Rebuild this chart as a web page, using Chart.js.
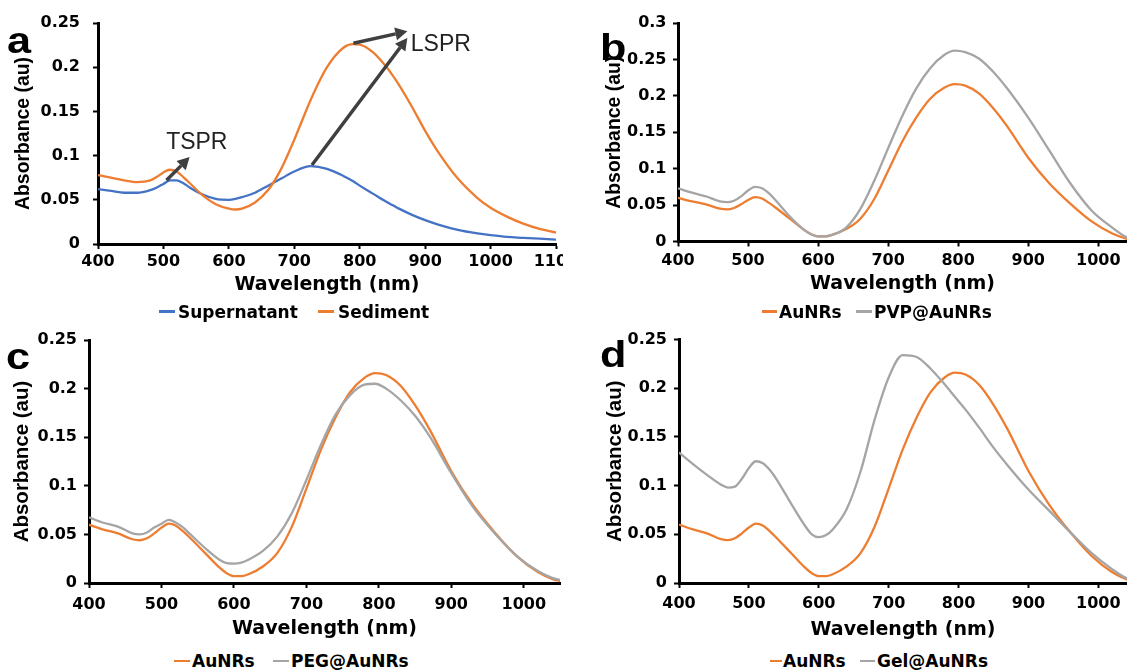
<!DOCTYPE html>
<html>
<head>
<meta charset="utf-8">
<script src="https://cdn.jsdelivr.net/npm/chart.js@4.4.0/dist/chart.umd.min.js"></script>
<style>
html,body{margin:0;padding:0;background:#fff;width:1127px;height:670px;overflow:hidden;position:relative;}
canvas{position:absolute;}
.letter{position:absolute;font-family:'Liberation Sans',Arial,sans-serif;font-weight:bold;color:#000;white-space:nowrap;transform-origin:left top;}
.lg-line{position:absolute;height:2.5px;}
.lg-text{position:absolute;font:bold 17px 'DejaVu Sans',sans-serif;line-height:20px;color:#000;white-space:nowrap;}
</style>
</head>
<body>
<canvas id="ca" width="563" height="304" style="left:0px;top:0px"></canvas>
<canvas id="cb" width="564" height="302" style="left:563px;top:0px"></canvas>
<canvas id="cc" width="563" height="313" style="left:0px;top:330px"></canvas>
<canvas id="cd" width="564" height="313" style="left:563px;top:330px"></canvas>
<div id="overlay"></div>
<script>
// ---------------- DATA ----------------
const xTitle = 'Wavelength (nm)';
const yTitle = 'Absorbance (au)';

// Panel a
const waveA = [400,420,440,460,480,490,500,510,520,530,540,560,580,600,610,620,640,660,680,700,725,750,775,790,800,820,840,850,860,880,900,920,950,980,1000,1025,1050,1075,1100];
const supernatant = [0.062,0.060,0.058,0.058,0.061,0.064,0.068,0.072,0.072,0.069,0.064,0.056,0.051,0.050,0.051,0.053,0.058,0.066,0.074,0.082,0.088,0.085,0.077,0.071,0.066,0.057,0.048,0.044,0.040,0.033,0.027,0.022,0.016,0.012,0.010,0.008,0.007,0.006,0.005];
const sediment = [0.078,0.075,0.072,0.070,0.072,0.076,0.081,0.084,0.082,0.076,0.069,0.055,0.045,0.040,0.039,0.040,0.047,0.061,0.085,0.118,0.163,0.200,0.222,0.226,0.2255,0.217,0.201,0.191,0.180,0.155,0.128,0.104,0.074,0.052,0.041,0.031,0.023,0.017,0.013];

// Panels b, c, d
const waveBCD = [400,420,440,460,470,480,490,500,510,520,530,540,560,580,590,600,610,620,640,660,680,700,720,740,760,780,795,810,830,850,870,900,930,960,990,1020,1040,1050];
const auNRs = [0.060,0.055,0.051,0.045,0.044,0.046,0.051,0.057,0.061,0.059,0.053,0.046,0.031,0.016,0.010,0.007,0.007,0.009,0.017,0.031,0.058,0.097,0.137,0.170,0.196,0.211,0.216,0.214,0.203,0.183,0.158,0.115,0.080,0.052,0.028,0.011,0.004,0.002];
const pvpAuNRs = [0.073,0.067,0.062,0.055,0.054,0.056,0.062,0.070,0.075,0.073,0.066,0.056,0.034,0.016,0.010,0.007,0.007,0.009,0.019,0.044,0.083,0.128,0.172,0.210,0.238,0.256,0.262,0.260,0.251,0.233,0.210,0.170,0.125,0.080,0.043,0.019,0.006,0.004];
const pegAuNRs = [0.0675,0.062,0.058,0.051,0.050,0.052,0.057,0.061,0.065,0.062,0.057,0.050,0.036,0.024,0.0205,0.020,0.021,0.024,0.033,0.048,0.072,0.106,0.142,0.173,0.193,0.204,0.205,0.200,0.188,0.172,0.151,0.113,0.078,0.051,0.028,0.012,0.005,0.003];
const gelAuNRs = [0.134,0.122,0.111,0.101,0.098,0.099,0.107,0.118,0.125,0.123,0.116,0.106,0.082,0.059,0.050,0.047,0.049,0.055,0.076,0.115,0.168,0.211,0.234,0.232,0.220,0.204,0.191,0.178,0.159,0.139,0.121,0.096,0.074,0.052,0.031,0.014,0.005,0.003];

// Tick values / labels
const xTicksA = [400,500,600,700,800,900,1000,1100];
const xLabelsA = ['400','500','600','700','800','900','1000','1100'];
const xTicksBCD = [400,500,600,700,800,900,1000];
const xLabelsBCD = ['400','500','600','700','800','900','1000'];
const yTicks25 = [0,0.05,0.1,0.15,0.2,0.25];
const yLabels25 = ['0','0.05','0.1','0.15','0.2','0.25'];
const yTicks30 = [0,0.05,0.1,0.15,0.2,0.25,0.3];
const yLabels30 = ['0','0.05','0.1','0.15','0.2','0.25','0.3'];

// Annotations (panel a), in data coordinates
const arrowStartX = [504.7, 790.3, 727.0];
const arrowStartY = [0.072, 0.2271, 0.0893];
const arrowEndX   = [540.0, 872.8, 872.8];
const arrowEndY   = [0.0983, 0.2406, 0.2331];
const noteText = ['TSPR', 'LSPR'];
const noteX = [551, 924];
const noteY = [0.1154, 0.2264];

// ---------------- STYLE ----------------
const BLUE = '#4472C4', ORANGE = '#ED7D31', GRAY = '#A5A5A5';
Chart.defaults.font.family = "'DejaVu Sans', sans-serif";
Chart.defaults.color = '#000';

function pts(xs, ys){ return xs.map((x,i)=>({x:x, y:ys[i]})); }

const annotPlugin = {
  id: 'annot',
  afterDatasetsDraw(chart, args, opts) {
    const ctx = chart.ctx, xs = chart.scales.x, ys = chart.scales.y;
    ctx.save();
    ctx.strokeStyle = '#3f3f3f';
    ctx.fillStyle = '#3f3f3f';
    ctx.lineWidth = 3.5;
    for (let i = 0; i < arrowStartX.length; i++) {
      const x1 = xs.getPixelForValue(arrowStartX[i]), y1 = ys.getPixelForValue(arrowStartY[i]);
      const x2 = xs.getPixelForValue(arrowEndX[i]), y2 = ys.getPixelForValue(arrowEndY[i]);
      const ang = Math.atan2(y2 - y1, x2 - x1);
      const hl = 12, hw = 6.5;
      const bx = x2 - hl * Math.cos(ang), by = y2 - hl * Math.sin(ang);
      ctx.beginPath(); ctx.moveTo(x1, y1); ctx.lineTo(bx, by); ctx.stroke();
      ctx.beginPath();
      ctx.moveTo(x2, y2);
      ctx.lineTo(bx + hw * Math.sin(ang), by - hw * Math.cos(ang));
      ctx.lineTo(bx - hw * Math.sin(ang), by + hw * Math.cos(ang));
      ctx.closePath(); ctx.fill();
    }
    ctx.fillStyle = '#222';
    ctx.font = "23px 'Liberation Sans', Arial, sans-serif";
    ctx.textAlign = 'center';
    ctx.textBaseline = 'middle';
    for (let i = 0; i < noteText.length; i++) {
      ctx.fillText(noteText[i], xs.getPixelForValue(noteX[i]), ys.getPixelForValue(noteY[i]) + 1);
    }
    ctx.restore();
  }
};

function buildChart(p) {
  const cv = document.getElementById(p.id);
  return new Chart(cv, {
    type: 'line',
    data: {
      datasets: p.series.map((s, i) => ({
        label: s.name,
        data: pts(s.x, s.y),
        borderColor: s.color,
        backgroundColor: s.color,
        borderWidth: 2.3,
        pointRadius: 0,
        cubicInterpolationMode: 'monotone',
        fill: false,
        order: p.series.length - i
      }))
    },
    options: {
      responsive: false,
      animation: false,
      devicePixelRatio: 1,
      layout: { padding: { top: p.padTop, right: p.padRight, left: 0, bottom: 0 } },
      plugins: { legend: { display: false }, tooltip: { enabled: false } },
      scales: {
        x: {
          type: 'linear', min: p.xMin, max: p.xMax,
          afterBuildTicks: s => { s.ticks = p.xTicks.map(v => ({ value: v })); },
          afterFit: s => { s.height = p.xH; s.paddingLeft = 0; s.paddingRight = 0; },
          ticks: { font: { size: 16, weight: 'bold' }, color: '#000', padding: p.xTickPad, maxRotation: 0, autoSkip: false,
                   callback: (v, i) => p.xLabels[i] },
          grid: { drawOnChartArea: false, drawTicks: true, tickLength: 5, tickWidth: 2, tickColor: '#000', color: '#000' },
          border: { display: true, color: '#000', width: 3 },
          title: { display: true, text: xTitle, color: '#000', font: { size: 19, weight: 'bold' }, padding: { top: 0, bottom: p.xTitlePad } }
        },
        y: {
          type: 'linear', min: 0, max: p.yMax,
          afterBuildTicks: s => { s.ticks = p.yTicks.map(v => ({ value: v })); },
          afterFit: s => { s.width = p.yW; s.paddingTop = 0; s.paddingBottom = 0; },
          ticks: { font: { size: 16, weight: 'bold' }, color: '#000', padding: p.yTickPad, autoSkip: false,
                   callback: (v, i) => p.yLabels[i] },
          grid: { drawOnChartArea: false, drawTicks: true, tickLength: 5, tickWidth: 2, tickColor: '#000', color: '#000' },
          border: { display: true, color: '#000', width: 3 },
          title: { display: true, text: yTitle, color: '#000',
                   font: { family: "'Liberation Sans', Arial, sans-serif", size: p.yTitleSize, weight: 'bold' },
                   padding: { top: p.yTitlePad, bottom: 0 } }
        }
      }
    },
    plugins: p.annot ? [annotPlugin] : []
  });
}

const panels = [
  { id: 'ca', letter: 'a', letterX: 7, letterTop: 22.5,
    series: [ { name: 'Supernatant', x: waveA, y: supernatant, color: BLUE },
              { name: 'Sediment', x: waveA, y: sediment, color: ORANGE } ],
    xMin: 400, xMax: 1100, xTicks: xTicksA, xLabels: xLabelsA,
    yMax: 0.25, yTicks: yTicks25, yLabels: yLabels25,
    padTop: 23, padRight: 7, yW: 98, xH: 60, xTickPad: 3.4, xTitlePad: 7.6, yTickPad: 13, yTitlePad: 12, yTitleSize: 19.4,
    annot: true,
    legend: { y: 311.7, items: [ { line: 159, w: 16, text: 178 }, { line: 318, w: 16, text: 338 } ] } },
  { id: 'cb', letter: 'b', letterX: 600, letterTop: 29.5,
    series: [ { name: 'AuNRs', x: waveBCD, y: auNRs, color: ORANGE },
              { name: 'PVP@AuNRs', x: waveBCD, y: pvpAuNRs, color: GRAY } ],
    xMin: 400, xMax: 1041, xTicks: xTicksBCD, xLabels: xLabelsBCD,
    yMax: 0.3, yTicks: yTicks30, yLabels: yLabels30,
    padTop: 23, padRight: 0, yW: 115, xH: 60.5, xTickPad: 4.4, xTitlePad: 6.1, yTickPad: 6.5, yTitlePad: 40, yTitleSize: 19.4,
    legend: { y: 311.7, items: [ { line: 762, w: 15, text: 779 }, { line: 856, w: 16, text: 874 } ] } },
  { id: 'cc', letter: 'c', letterX: 6, letterTop: 338.5,
    series: [ { name: 'AuNRs', x: waveBCD, y: auNRs, color: ORANGE },
              { name: 'PEG@AuNRs', x: waveBCD, y: pegAuNRs, color: GRAY } ],
    xMin: 400, xMax: 1050, xTicks: xTicksBCD, xLabels: xLabelsBCD,
    yMax: 0.25, yTicks: yTicks25, yLabels: yLabels25,
    padTop: 10, padRight: 3, yW: 89, xH: 60, xTickPad: 6.9, xTitlePad: 2.6, yTickPad: 7, yTitlePad: 10, yTitleSize: 20.5,
    legend: { y: 661, items: [ { line: 174, w: 16, text: 192 }, { line: 273, w: 16, text: 291 } ] } },
  { id: 'cd', letter: 'd', letterX: 600, letterTop: 336.5,
    series: [ { name: 'AuNRs', x: waveBCD, y: auNRs, color: ORANGE },
              { name: 'Gel@AuNRs', x: waveBCD, y: gelAuNRs, color: GRAY } ],
    xMin: 400, xMax: 1041, xTicks: xTicksBCD, xLabels: xLabelsBCD,
    yMax: 0.25, yTicks: yTicks25, yLabels: yLabels25,
    padTop: 9.5, padRight: 0, yW: 116, xH: 60, xTickPad: 6.4, xTitlePad: 1.6, yTickPad: 7, yTitlePad: 40, yTitleSize: 20.5,
    legend: { y: 661, items: [ { line: 770, w: 12, text: 783 }, { line: 860, w: 15, text: 877 } ] } }
];

const overlay = document.getElementById('overlay');
panels.forEach(p => {
  buildChart(p);
  const L = document.createElement('div');
  L.className = 'letter';
  L.textContent = p.letter;
  L.style.cssText = `left:${p.letterX}px;top:${p.letterTop}px;font-size:36px;line-height:36px;transform:scaleX(1.2);`;
  overlay.appendChild(L);
  p.series.forEach((s, i) => {
    const it = p.legend.items[i];
    const ln = document.createElement('div');
    ln.className = 'lg-line';
    ln.style.cssText = `left:${it.line}px;top:${p.legend.y - 1.25}px;width:${it.w}px;background:${s.color};`;
    overlay.appendChild(ln);
    const tx = document.createElement('div');
    tx.className = 'lg-text';
    tx.textContent = s.name;
    tx.style.cssText = `left:${it.text}px;top:${p.legend.y - 9.7}px;`;
    overlay.appendChild(tx);
  });
});
</script>
</body>
</html>
